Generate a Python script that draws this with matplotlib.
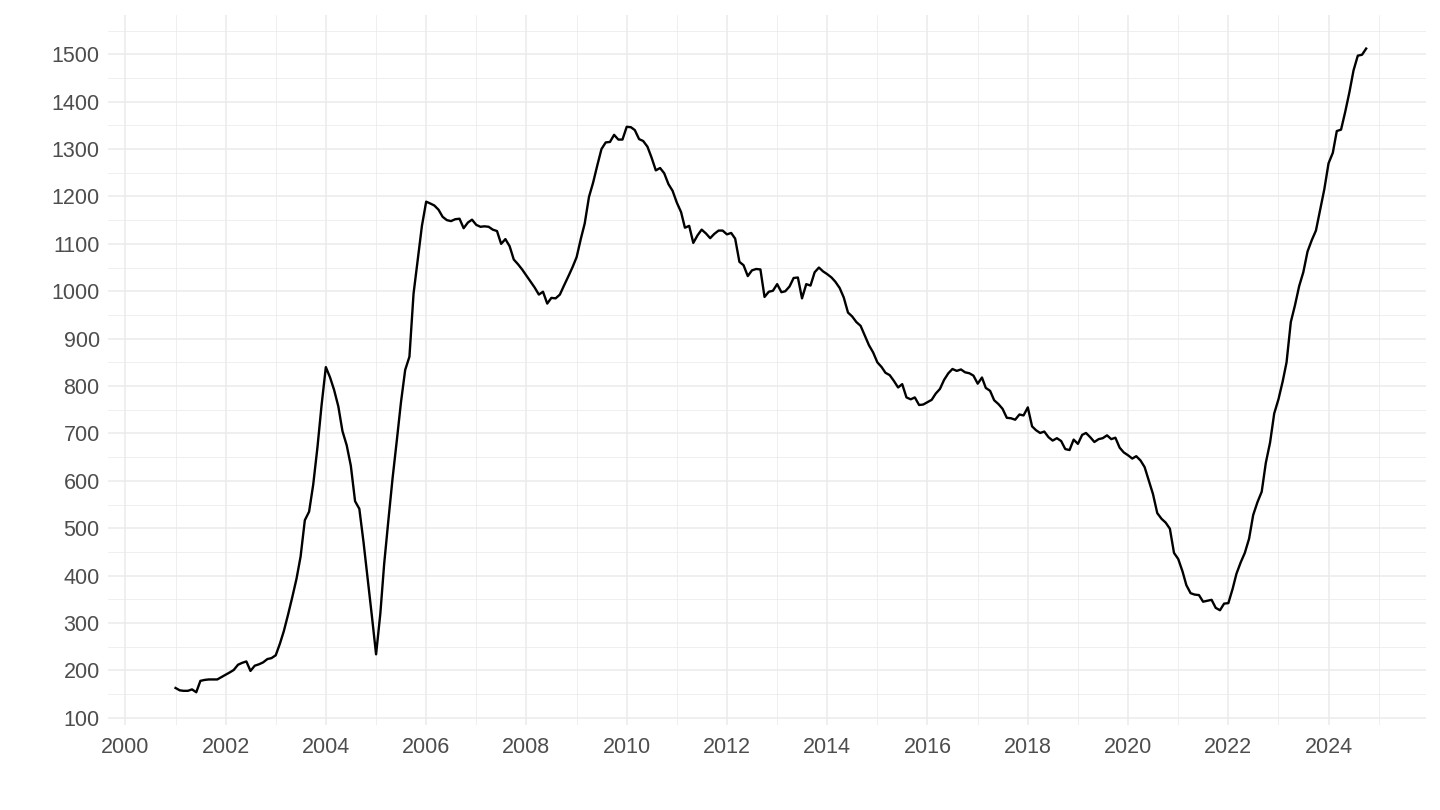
import numpy as np
import pandas as pd
import matplotlib
matplotlib.use("Agg")
import matplotlib.pyplot as plt
import matplotlib.dates as mdates
from matplotlib.ticker import MultipleLocator

plt.rcParams['font.family'] = ['Liberation Sans', 'DejaVu Sans']

# monthly values, Jan 2001 .. Oct 2024
values = [
    163, 158, 157, 157, 160, 154, 178, 180, 181, 181, 181, 186,      # 2001
    191, 196, 201, 212, 216, 219, 199, 210, 213, 217, 224, 226,      # 2002
    232, 257, 283, 318, 354, 393, 440, 517, 535, 592, 671, 760,      # 2003
    840, 818, 792, 757, 705, 675, 632, 557, 541, 472, 393, 316,      # 2004
    234, 320, 425, 518, 605, 685, 765, 834, 862, 995, 1068, 1138,    # 2005
    1189, 1185, 1181, 1172, 1157, 1150, 1148, 1152, 1153, 1133, 1145, 1151,  # 2006
    1140, 1136, 1137, 1136, 1130, 1127, 1100, 1110, 1095, 1067, 1057, 1046,  # 2007
    1033, 1020, 1008, 993, 999, 974, 986, 985, 993, 1012, 1031, 1050,        # 2008
    1072, 1111, 1143, 1199, 1229, 1266, 1300, 1314, 1315, 1330, 1320, 1320,  # 2009
    1347, 1346, 1340, 1321, 1317, 1305, 1282, 1255, 1260, 1249, 1226, 1212,  # 2010
    1187, 1167, 1134, 1138, 1102, 1118, 1130, 1122, 1112, 1121, 1128, 1128,  # 2011
    1120, 1123, 1111, 1062, 1055, 1032, 1044, 1047, 1046, 988, 999, 1001,    # 2012
    1015, 998, 1000, 1010, 1028, 1029, 985, 1015, 1012, 1040, 1050, 1042,    # 2013
    1036, 1029, 1020, 1007, 987, 955, 947, 935, 927, 907, 886, 871,          # 2014
    850, 840, 828, 823, 811, 797, 804, 776, 772, 776, 760, 761,              # 2015
    766, 771, 784, 794, 813, 827, 836, 832, 835, 829, 827, 822,              # 2016
    805, 818, 796, 790, 770, 762, 752, 733, 732, 729, 740, 738,              # 2017
    755, 715, 707, 701, 704, 692, 685, 690, 684, 667, 665, 687,              # 2018
    678, 697, 701, 692, 682, 688, 690, 696, 688, 691, 670, 660,              # 2019
    654, 647, 652, 643, 629, 600, 572, 532, 520, 512, 499, 448,              # 2020
    435, 409, 380, 363, 360, 359, 345, 347, 349, 332, 327, 341,              # 2021
    342, 372, 404, 428, 448, 478, 528, 555, 577, 638, 681, 742,              # 2022
    772, 810, 850, 935, 970, 1011, 1040, 1084, 1108, 1128, 1172, 1215,       # 2023
    1270, 1292, 1338, 1341, 1378, 1420, 1466, 1497, 1499, 1512,              # 2024
]
start = '2001-01-01'
dates = pd.date_range(start, periods=len(values), freq='MS')

grid_col = '#EBEBEB'
text_col = '#4D4D4D'

fig = plt.figure(figsize=(14.4, 8.1), dpi=100)
ax = fig.add_axes([0.075, 0.105, 0.915, 0.876])

ax.plot(dates, values, color='black', lw=1.7, zorder=3)

ax.set_xlim(pd.Timestamp('1999-08-28'), pd.Timestamp('2025-12-08'))
ax.set_ylim(85, 1582)

ax.xaxis.set_major_locator(mdates.YearLocator(2))
ax.xaxis.set_minor_locator(mdates.YearLocator(1))
ax.xaxis.set_major_formatter(mdates.DateFormatter('%Y'))
ax.yaxis.set_major_locator(MultipleLocator(100))
ax.yaxis.set_minor_locator(MultipleLocator(50))

ax.grid(which='major', color=grid_col, lw=1.1)
ax.grid(which='minor', color=grid_col, lw=0.55)
ax.set_axisbelow(True)
for s in ax.spines.values():
    s.set_visible(False)
ax.tick_params(which='both', length=0)
ax.tick_params(axis='x', pad=9, labelsize=15.5, labelcolor=text_col)
ax.tick_params(axis='y', pad=6, labelsize=15.5, labelcolor=text_col)

fig.savefig('out.png', dpi=100, facecolor='white')
